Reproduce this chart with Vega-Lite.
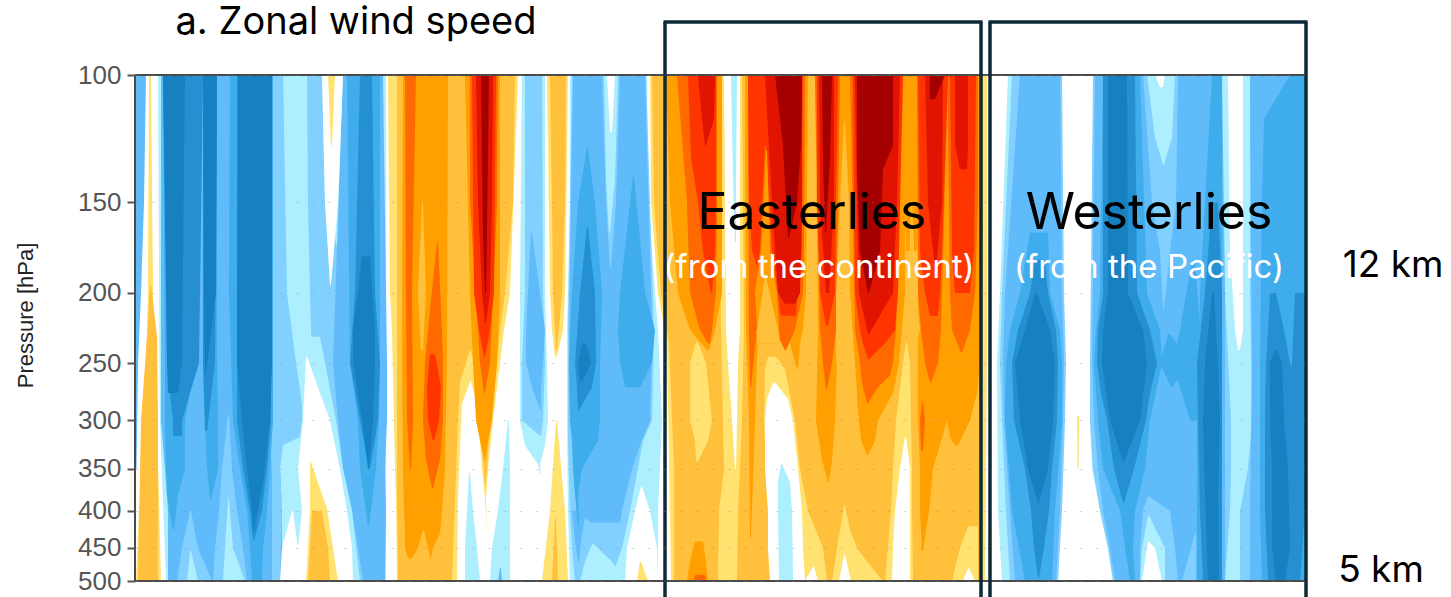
{"$schema":"https://vega.github.io/schema/vega-lite/v6.json","width":1170,"height":506,"autosize":{"type":"none"},"padding":{"left":135,"top":75,"right":146,"bottom":16},"background":"white","config":{"view":{"stroke":null},"font":"Liberation Sans"},
"layer":[
{"mark":{"type":"area","orient":"horizontal","strokeWidth":0},
"data":{"values":[
{"r":1,"v":-3,"p":100,"x":136,"x2":146},{"r":1,"v":-3,"p":150,"x":136,"x2":144},{"r":1,"v":-3,"p":200,"x":136,"x2":141},{"r":1,"v":-3,"p":250,"x":136,"x2":138},{"r":1,"v":-3,"p":350,"x":136,"x2":136.5},
{"r":2,"v":1,"p":100,"x":149,"x2":151},{"r":2,"v":1,"p":200,"x":148,"x2":153},{"r":2,"v":1,"p":250,"x":146,"x2":155},{"r":2,"v":1,"p":300,"x":143,"x2":157},{"r":2,"v":1,"p":500,"x":136,"x2":161},
{"r":3,"v":2,"p":195,"x":150,"x2":151},{"r":3,"v":2,"p":230,"x":147,"x2":157},{"r":3,"v":2,"p":300,"x":141,"x2":158},{"r":3,"v":2,"p":500,"x":138,"x2":158},
{"r":4,"v":-1,"p":100,"x":158,"x2":386},{"r":4,"v":-1,"p":300,"x":160,"x2":386},{"r":4,"v":-1,"p":500,"x":166,"x2":386},
{"r":5,"v":-3,"p":100,"x":161,"x2":273},{"r":5,"v":-3,"p":300,"x":161,"x2":273},{"r":5,"v":-3,"p":350,"x":165,"x2":280},{"r":5,"v":-3,"p":400,"x":168,"x2":282},{"r":5,"v":-3,"p":500,"x":168,"x2":282},
{"r":6,"v":-2,"p":100,"x":270,"x2":283},{"r":6,"v":-2,"p":200,"x":270,"x2":287},{"r":6,"v":-2,"p":250,"x":270,"x2":296},{"r":6,"v":-2,"p":285,"x":270,"x2":302},{"r":6,"v":-2,"p":315,"x":270,"x2":302},{"r":6,"v":-2,"p":325,"x":270,"x2":283},{"r":6,"v":-2,"p":350,"x":272,"x2":280},{"r":6,"v":-2,"p":400,"x":272,"x2":282},{"r":6,"v":-2,"p":500,"x":272,"x2":280},
{"r":7,"v":-2,"p":100,"x":307,"x2":322},{"r":7,"v":-2,"p":150,"x":308,"x2":325},{"r":7,"v":-2,"p":200,"x":310,"x2":350},{"r":7,"v":-2,"p":250,"x":312,"x2":345},{"r":7,"v":-2,"p":300,"x":333,"x2":340},{"r":7,"v":-2,"p":350,"x":343,"x2":350},{"r":7,"v":-2,"p":400,"x":350,"x2":357},{"r":7,"v":-2,"p":500,"x":358,"x2":363},
{"r":8,"v":-3,"p":100,"x":343,"x2":383},{"r":8,"v":-3,"p":250,"x":333,"x2":387},{"r":8,"v":-3,"p":300,"x":338,"x2":387},{"r":8,"v":-3,"p":350,"x":343,"x2":385},{"r":8,"v":-3,"p":400,"x":352,"x2":386},{"r":8,"v":-3,"p":500,"x":363,"x2":385},
{"r":9,"v":-1,"p":230,"x":305,"x2":320},{"r":9,"v":-1,"p":300,"x":302,"x2":336},{"r":9,"v":-1,"p":350,"x":295,"x2":343},{"r":9,"v":-1,"p":400,"x":282,"x2":352},{"r":9,"v":-1,"p":500,"x":282,"x2":360},
{"r":10,"v":0,"p":100,"x":322,"x2":343},{"r":10,"v":0,"p":150,"x":325,"x2":338},{"r":10,"v":0,"p":195,"x":330,"x2":331},
{"r":11,"v":1,"p":100,"x":328,"x2":335},{"r":11,"v":1,"p":125,"x":331,"x2":332},
{"r":12,"v":0,"p":245,"x":306,"x2":307},{"r":12,"v":0,"p":300,"x":303,"x2":330},{"r":12,"v":0,"p":350,"x":298,"x2":340},{"r":12,"v":0,"p":400,"x":302,"x2":347},{"r":12,"v":0,"p":450,"x":298,"x2":352},{"r":12,"v":0,"p":500,"x":298,"x2":353},
{"r":13,"v":0,"p":400,"x":292,"x2":293},{"r":13,"v":0,"p":450,"x":282,"x2":298},{"r":13,"v":0,"p":500,"x":280,"x2":307},
{"r":14,"v":1,"p":343,"x":310,"x2":311},{"r":14,"v":1,"p":397,"x":310,"x2":327},{"r":14,"v":1,"p":450,"x":308,"x2":333},{"r":14,"v":1,"p":500,"x":306,"x2":338},
{"r":15,"v":2,"p":400,"x":312,"x2":322},{"r":15,"v":2,"p":450,"x":310,"x2":328},{"r":15,"v":2,"p":500,"x":308,"x2":330},
{"r":16,"v":-4,"p":100,"x":163,"x2":203},{"r":16,"v":-4,"p":250,"x":165,"x2":195},{"r":16,"v":-4,"p":300,"x":165,"x2":185},{"r":16,"v":-4,"p":350,"x":166,"x2":185},{"r":16,"v":-4,"p":380,"x":167,"x2":178},{"r":16,"v":-4,"p":425,"x":173,"x2":174},
{"r":17,"v":-4,"p":100,"x":203,"x2":217},{"r":17,"v":-4,"p":250,"x":203,"x2":217},{"r":17,"v":-4,"p":300,"x":205,"x2":218},{"r":17,"v":-4,"p":350,"x":207,"x2":218},{"r":17,"v":-4,"p":385,"x":210,"x2":211},
{"r":18,"v":-4,"p":100,"x":230,"x2":237},{"r":18,"v":-4,"p":200,"x":229,"x2":237},{"r":18,"v":-4,"p":300,"x":233,"x2":237},
{"r":19,"v":-4,"p":100,"x":235,"x2":273},{"r":19,"v":-4,"p":300,"x":233,"x2":273},{"r":19,"v":-4,"p":350,"x":240,"x2":270},{"r":19,"v":-4,"p":400,"x":247,"x2":267},{"r":19,"v":-4,"p":450,"x":250,"x2":263},{"r":19,"v":-4,"p":500,"x":252,"x2":262},
{"r":20,"v":-5,"p":100,"x":163,"x2":203},{"r":20,"v":-5,"p":250,"x":168,"x2":199},{"r":20,"v":-5,"p":275,"x":170,"x2":190},{"r":20,"v":-5,"p":300,"x":173,"x2":182},{"r":20,"v":-5,"p":315,"x":173,"x2":182},
{"r":21,"v":-5,"p":100,"x":203,"x2":217},{"r":21,"v":-5,"p":250,"x":203,"x2":215},{"r":21,"v":-5,"p":310,"x":205,"x2":207},
{"r":22,"v":-5,"p":100,"x":237,"x2":272},{"r":22,"v":-5,"p":300,"x":237,"x2":271},{"r":22,"v":-5,"p":350,"x":243,"x2":267},{"r":22,"v":-5,"p":400,"x":250,"x2":262},{"r":22,"v":-5,"p":440,"x":253,"x2":254},
{"r":23,"v":-6,"p":100,"x":163,"x2":185},{"r":23,"v":-6,"p":250,"x":167,"x2":182},{"r":23,"v":-6,"p":275,"x":168,"x2":178},
{"r":24,"v":-6,"p":100,"x":203,"x2":217},{"r":24,"v":-6,"p":200,"x":204,"x2":216},{"r":24,"v":-6,"p":260,"x":205,"x2":206},
{"r":25,"v":-6,"p":100,"x":238,"x2":272},{"r":25,"v":-6,"p":250,"x":237,"x2":272},{"r":25,"v":-6,"p":300,"x":242,"x2":270},{"r":25,"v":-6,"p":350,"x":247,"x2":265},{"r":25,"v":-6,"p":400,"x":252,"x2":258},{"r":25,"v":-6,"p":425,"x":253,"x2":254},
{"r":26,"v":-2,"p":400,"x":190,"x2":191},{"r":26,"v":-2,"p":450,"x":182,"x2":198},{"r":26,"v":-2,"p":500,"x":177,"x2":212},
{"r":27,"v":-1,"p":455,"x":190,"x2":191},{"r":27,"v":-1,"p":500,"x":187,"x2":198},
{"r":28,"v":-2,"p":295,"x":228,"x2":229},{"r":28,"v":-2,"p":350,"x":222,"x2":232},{"r":28,"v":-2,"p":400,"x":219,"x2":237},{"r":28,"v":-2,"p":450,"x":215,"x2":243},{"r":28,"v":-2,"p":500,"x":213,"x2":247},
{"r":29,"v":-1,"p":385,"x":228,"x2":229},{"r":29,"v":-1,"p":450,"x":225,"x2":233},{"r":29,"v":-1,"p":500,"x":223,"x2":245},
{"r":30,"v":-4,"p":100,"x":347,"x2":380},{"r":30,"v":-4,"p":250,"x":350,"x2":380},{"r":30,"v":-4,"p":300,"x":358,"x2":379},{"r":30,"v":-4,"p":350,"x":360,"x2":376},{"r":30,"v":-4,"p":420,"x":368,"x2":369},
{"r":31,"v":-5,"p":100,"x":360,"x2":372},{"r":31,"v":-5,"p":200,"x":355,"x2":375},{"r":31,"v":-5,"p":250,"x":350,"x2":380},{"r":31,"v":-5,"p":300,"x":360,"x2":378},{"r":31,"v":-5,"p":350,"x":369,"x2":370},
{"r":32,"v":-6,"p":178,"x":362,"x2":370},{"r":32,"v":-6,"p":225,"x":353,"x2":375},{"r":32,"v":-6,"p":250,"x":353,"x2":375},{"r":32,"v":-6,"p":300,"x":362,"x2":373},{"r":32,"v":-6,"p":350,"x":368,"x2":369},
{"r":33,"v":1,"p":100,"x":388,"x2":518},{"r":33,"v":1,"p":200,"x":390,"x2":510},{"r":33,"v":1,"p":225,"x":392,"x2":504},{"r":33,"v":1,"p":300,"x":394,"x2":493},{"r":33,"v":1,"p":350,"x":395,"x2":488},{"r":33,"v":1,"p":385,"x":396,"x2":486},{"r":33,"v":1,"p":500,"x":397,"x2":458},
{"r":34,"v":2,"p":100,"x":397,"x2":515},{"r":34,"v":2,"p":150,"x":397,"x2":513},{"r":34,"v":2,"p":200,"x":397,"x2":505},{"r":34,"v":2,"p":225,"x":397,"x2":500},{"r":34,"v":2,"p":250,"x":397,"x2":497},{"r":34,"v":2,"p":300,"x":397,"x2":490},{"r":34,"v":2,"p":350,"x":397,"x2":487},{"r":34,"v":2,"p":375,"x":397,"x2":485},{"r":34,"v":2,"p":500,"x":398,"x2":452},
{"r":35,"v":1,"p":240,"x":470,"x2":471},{"r":35,"v":1,"p":265,"x":460,"x2":478},{"r":35,"v":1,"p":300,"x":458,"x2":480},{"r":35,"v":1,"p":385,"x":455,"x2":486},{"r":35,"v":1,"p":500,"x":452,"x2":488},
{"r":36,"v":0,"p":265,"x":470,"x2":471},{"r":36,"v":0,"p":285,"x":462,"x2":477},{"r":36,"v":0,"p":350,"x":459,"x2":482},{"r":36,"v":0,"p":385,"x":458,"x2":485},{"r":36,"v":0,"p":500,"x":457,"x2":490},
{"r":37,"v":-1,"p":355,"x":469,"x2":470},{"r":37,"v":-1,"p":400,"x":467,"x2":473},{"r":37,"v":-1,"p":450,"x":465,"x2":477},{"r":37,"v":-1,"p":500,"x":465,"x2":480},
{"r":38,"v":-1,"p":300,"x":508,"x2":509},{"r":38,"v":-1,"p":350,"x":503,"x2":510},{"r":38,"v":-1,"p":400,"x":498,"x2":510},{"r":38,"v":-1,"p":450,"x":492,"x2":510},{"r":38,"v":-1,"p":500,"x":490,"x2":510},
{"r":39,"v":-3,"p":480,"x":500,"x2":501},{"r":39,"v":-3,"p":500,"x":498,"x2":502},
{"r":40,"v":3,"p":100,"x":403,"x2":448},{"r":40,"v":3,"p":250,"x":402,"x2":447},{"r":40,"v":3,"p":350,"x":403,"x2":445},{"r":40,"v":3,"p":400,"x":404,"x2":442},{"r":40,"v":3,"p":430,"x":405,"x2":440},{"r":40,"v":3,"p":450,"x":405,"x2":433},{"r":40,"v":3,"p":465,"x":408,"x2":431},
{"r":41,"v":2,"p":425,"x":423,"x2":424},{"r":41,"v":2,"p":450,"x":418,"x2":428},{"r":41,"v":2,"p":470,"x":410,"x2":431},
{"r":42,"v":2,"p":150,"x":422,"x2":423},{"r":42,"v":2,"p":200,"x":418,"x2":426},{"r":42,"v":2,"p":240,"x":421,"x2":423},
{"r":43,"v":4,"p":100,"x":405,"x2":416},{"r":43,"v":4,"p":200,"x":406,"x2":412},{"r":43,"v":4,"p":300,"x":407,"x2":413},{"r":43,"v":4,"p":350,"x":410,"x2":411},
{"r":44,"v":4,"p":170,"x":437,"x2":438},{"r":44,"v":4,"p":225,"x":428,"x2":442},{"r":44,"v":4,"p":250,"x":425,"x2":443},{"r":44,"v":4,"p":300,"x":423,"x2":443},{"r":44,"v":4,"p":340,"x":426,"x2":440},{"r":44,"v":4,"p":372,"x":432,"x2":433},
{"r":45,"v":5,"p":243,"x":430,"x2":435},{"r":45,"v":5,"p":270,"x":427,"x2":441},{"r":45,"v":5,"p":300,"x":428,"x2":439},{"r":45,"v":5,"p":320,"x":433,"x2":434},
{"r":46,"v":3,"p":100,"x":465,"x2":500},{"r":46,"v":3,"p":200,"x":470,"x2":500},{"r":46,"v":3,"p":250,"x":473,"x2":497},{"r":46,"v":3,"p":300,"x":476,"x2":492},{"r":46,"v":3,"p":340,"x":484,"x2":485},
{"r":47,"v":4,"p":100,"x":470,"x2":498},{"r":47,"v":4,"p":150,"x":470,"x2":497},{"r":47,"v":4,"p":250,"x":480,"x2":490},{"r":47,"v":4,"p":275,"x":484,"x2":485},
{"r":48,"v":5,"p":100,"x":472,"x2":496},{"r":48,"v":5,"p":200,"x":474,"x2":494},{"r":48,"v":5,"p":225,"x":479,"x2":490},{"r":48,"v":5,"p":245,"x":484,"x2":485},
{"r":49,"v":6,"p":100,"x":476,"x2":493},{"r":49,"v":6,"p":150,"x":478,"x2":492},{"r":49,"v":6,"p":200,"x":482,"x2":490},{"r":49,"v":6,"p":220,"x":485,"x2":486},
{"r":50,"v":7,"p":100,"x":481,"x2":489},{"r":50,"v":7,"p":165,"x":483,"x2":487},{"r":50,"v":7,"p":200,"x":485,"x2":486},
{"r":51,"v":-1,"p":100,"x":522,"x2":545},{"r":51,"v":-1,"p":200,"x":520,"x2":545},{"r":51,"v":-1,"p":250,"x":520,"x2":547},{"r":51,"v":-1,"p":300,"x":520,"x2":548},{"r":51,"v":-1,"p":325,"x":525,"x2":545},{"r":51,"v":-1,"p":345,"x":538,"x2":540},{"r":51,"v":-1,"p":355,"x":540,"x2":541},
{"r":52,"v":-2,"p":100,"x":525,"x2":542},{"r":52,"v":-2,"p":200,"x":525,"x2":543},{"r":52,"v":-2,"p":250,"x":522,"x2":545},{"r":52,"v":-2,"p":300,"x":522,"x2":543},{"r":52,"v":-2,"p":315,"x":540,"x2":541},
{"r":53,"v":-3,"p":165,"x":531,"x2":532},{"r":53,"v":-3,"p":225,"x":526,"x2":545},{"r":53,"v":-3,"p":250,"x":526,"x2":543},{"r":53,"v":-3,"p":270,"x":532,"x2":541},{"r":53,"v":-3,"p":290,"x":540,"x2":541},
{"r":54,"v":1,"p":100,"x":547,"x2":568},{"r":54,"v":1,"p":200,"x":550,"x2":565},{"r":54,"v":1,"p":225,"x":552,"x2":563},{"r":54,"v":1,"p":245,"x":555,"x2":557},
{"r":55,"v":2,"p":100,"x":550,"x2":566},{"r":55,"v":2,"p":150,"x":552,"x2":565},{"r":55,"v":2,"p":200,"x":553,"x2":562},{"r":55,"v":2,"p":240,"x":556,"x2":557},
{"r":56,"v":1,"p":300,"x":556,"x2":557},{"r":56,"v":1,"p":400,"x":550,"x2":565},{"r":56,"v":1,"p":500,"x":542,"x2":568},
{"r":57,"v":2,"p":410,"x":555,"x2":556},{"r":57,"v":2,"p":500,"x":552,"x2":558},
{"r":58,"v":-1,"p":100,"x":570,"x2":647},{"r":58,"v":-1,"p":150,"x":570,"x2":648},{"r":58,"v":-1,"p":225,"x":567,"x2":658},{"r":58,"v":-1,"p":300,"x":567,"x2":662},{"r":58,"v":-1,"p":400,"x":568,"x2":658},{"r":58,"v":-1,"p":500,"x":570,"x2":658},
{"r":59,"v":0,"p":370,"x":641,"x2":642},{"r":59,"v":0,"p":400,"x":635,"x2":650},{"r":59,"v":0,"p":450,"x":627,"x2":657},{"r":59,"v":0,"p":500,"x":625,"x2":658},
{"r":60,"v":1,"p":470,"x":640,"x2":641},{"r":60,"v":1,"p":500,"x":637,"x2":648},
{"r":61,"v":-2,"p":100,"x":572,"x2":646},{"r":61,"v":-2,"p":225,"x":568,"x2":654},{"r":61,"v":-2,"p":300,"x":568,"x2":652},{"r":61,"v":-2,"p":320,"x":568,"x2":643},{"r":61,"v":-2,"p":400,"x":570,"x2":630},{"r":61,"v":-2,"p":450,"x":572,"x2":622},{"r":61,"v":-2,"p":500,"x":575,"x2":610},
{"r":62,"v":-1,"p":445,"x":592,"x2":594},{"r":62,"v":-1,"p":470,"x":585,"x2":612},{"r":62,"v":-1,"p":500,"x":580,"x2":625},
{"r":63,"v":-3,"p":100,"x":573,"x2":645},{"r":63,"v":-3,"p":225,"x":569,"x2":652},{"r":63,"v":-3,"p":300,"x":570,"x2":650},{"r":63,"v":-3,"p":325,"x":574,"x2":640},{"r":63,"v":-3,"p":350,"x":575,"x2":632},{"r":63,"v":-3,"p":400,"x":578,"x2":622},{"r":63,"v":-3,"p":415,"x":590,"x2":620},
{"r":64,"v":-3,"p":400,"x":572,"x2":586},{"r":64,"v":-3,"p":440,"x":575,"x2":581},{"r":64,"v":-3,"p":470,"x":578,"x2":579},
{"r":65,"v":-4,"p":126,"x":587,"x2":588},{"r":65,"v":-4,"p":150,"x":578,"x2":595},{"r":65,"v":-4,"p":200,"x":572,"x2":602},{"r":65,"v":-4,"p":250,"x":569,"x2":600},{"r":65,"v":-4,"p":300,"x":570,"x2":600},{"r":65,"v":-4,"p":320,"x":572,"x2":598},{"r":65,"v":-4,"p":350,"x":573,"x2":582},{"r":65,"v":-4,"p":380,"x":575,"x2":578},{"r":65,"v":-4,"p":420,"x":578,"x2":579},
{"r":66,"v":-4,"p":138,"x":633,"x2":634},{"r":66,"v":-4,"p":200,"x":620,"x2":645},{"r":66,"v":-4,"p":225,"x":618,"x2":655},{"r":66,"v":-4,"p":250,"x":620,"x2":652},{"r":66,"v":-4,"p":270,"x":625,"x2":640},
{"r":67,"v":-5,"p":162,"x":587,"x2":588},{"r":67,"v":-5,"p":200,"x":580,"x2":595},{"r":67,"v":-5,"p":250,"x":575,"x2":596},{"r":67,"v":-5,"p":270,"x":577,"x2":592},{"r":67,"v":-5,"p":290,"x":578,"x2":579},
{"r":68,"v":-6,"p":235,"x":582,"x2":586},{"r":68,"v":-6,"p":250,"x":578,"x2":591},{"r":68,"v":-6,"p":265,"x":580,"x2":582},
{"r":69,"v":-2,"p":100,"x":602,"x2":620},{"r":69,"v":-2,"p":150,"x":606,"x2":616},{"r":69,"v":-2,"p":185,"x":610,"x2":611},
{"r":70,"v":-1,"p":100,"x":604,"x2":618},{"r":70,"v":-1,"p":140,"x":606,"x2":615},{"r":70,"v":-1,"p":165,"x":609,"x2":610},
{"r":71,"v":0,"p":100,"x":607,"x2":615},{"r":71,"v":0,"p":120,"x":610,"x2":612},
{"r":72,"v":1,"p":100,"x":650,"x2":987},{"r":72,"v":1,"p":150,"x":651,"x2":987},{"r":72,"v":1,"p":200,"x":658,"x2":987},{"r":72,"v":1,"p":235,"x":667,"x2":987},{"r":72,"v":1,"p":500,"x":671,"x2":985},
{"r":73,"v":2,"p":100,"x":652,"x2":983},{"r":73,"v":2,"p":150,"x":654,"x2":983},{"r":73,"v":2,"p":200,"x":661,"x2":982},{"r":73,"v":2,"p":235,"x":669,"x2":981},{"r":73,"v":2,"p":350,"x":674,"x2":980},{"r":73,"v":2,"p":500,"x":674,"x2":979},
{"r":74,"v":1,"p":100,"x":718,"x2":742},{"r":74,"v":1,"p":225,"x":721,"x2":744},{"r":74,"v":1,"p":300,"x":723,"x2":742},{"r":74,"v":1,"p":350,"x":724,"x2":740},{"r":74,"v":1,"p":400,"x":719,"x2":738},{"r":74,"v":1,"p":500,"x":718,"x2":737},
{"r":75,"v":0,"p":100,"x":724,"x2":740},{"r":75,"v":0,"p":225,"x":726,"x2":740},{"r":75,"v":0,"p":250,"x":728,"x2":738},{"r":75,"v":0,"p":300,"x":732,"x2":737},{"r":75,"v":0,"p":350,"x":735,"x2":736},
{"r":76,"v":-1,"p":100,"x":731,"x2":737},{"r":76,"v":-1,"p":140,"x":733,"x2":736},{"r":76,"v":-1,"p":170,"x":735,"x2":736},
{"r":77,"v":3,"p":100,"x":666,"x2":722},{"r":77,"v":3,"p":150,"x":670,"x2":722},{"r":77,"v":3,"p":200,"x":678,"x2":722},{"r":77,"v":3,"p":225,"x":690,"x2":715},{"r":77,"v":3,"p":240,"x":707,"x2":709},
{"r":78,"v":4,"p":100,"x":677,"x2":717},{"r":78,"v":4,"p":150,"x":687,"x2":717},{"r":78,"v":4,"p":200,"x":690,"x2":716},{"r":78,"v":4,"p":225,"x":700,"x2":712},{"r":78,"v":4,"p":235,"x":708,"x2":710},
{"r":79,"v":5,"p":100,"x":688,"x2":716},{"r":79,"v":5,"p":130,"x":691,"x2":716},{"r":79,"v":5,"p":150,"x":698,"x2":716},{"r":79,"v":5,"p":175,"x":703,"x2":715},{"r":79,"v":5,"p":200,"x":711,"x2":712},
{"r":80,"v":6,"p":100,"x":698,"x2":715},{"r":80,"v":6,"p":115,"x":702,"x2":714},{"r":80,"v":6,"p":125,"x":705,"x2":706},
{"r":81,"v":1,"p":234,"x":696,"x2":698},{"r":81,"v":1,"p":250,"x":690,"x2":706},{"r":81,"v":1,"p":300,"x":690,"x2":712},{"r":81,"v":1,"p":320,"x":695,"x2":708},{"r":81,"v":1,"p":342,"x":696,"x2":698},
{"r":82,"v":3,"p":441,"x":695,"x2":703},{"r":82,"v":3,"p":470,"x":690,"x2":706},{"r":82,"v":3,"p":500,"x":687,"x2":708},
{"r":83,"v":4,"p":490,"x":695,"x2":705},{"r":83,"v":4,"p":500,"x":693,"x2":706},
{"r":84,"v":3,"p":100,"x":748,"x2":808},{"r":84,"v":3,"p":150,"x":752,"x2":807},{"r":84,"v":3,"p":200,"x":765,"x2":806},{"r":84,"v":3,"p":225,"x":780,"x2":803},{"r":84,"v":3,"p":235,"x":790,"x2":800},{"r":84,"v":3,"p":255,"x":797,"x2":798},
{"r":85,"v":3,"p":100,"x":745,"x2":760},{"r":85,"v":3,"p":225,"x":746,"x2":758},{"r":85,"v":3,"p":300,"x":749,"x2":755},{"r":85,"v":3,"p":436,"x":750,"x2":751},
{"r":86,"v":4,"p":100,"x":748,"x2":805},{"r":86,"v":4,"p":175,"x":755,"x2":804},{"r":86,"v":4,"p":200,"x":758,"x2":803},{"r":86,"v":4,"p":225,"x":775,"x2":795},{"r":86,"v":4,"p":240,"x":785,"x2":786},
{"r":87,"v":4,"p":100,"x":748,"x2":760},{"r":87,"v":4,"p":230,"x":749,"x2":756},{"r":87,"v":4,"p":270,"x":750,"x2":751},
{"r":88,"v":5,"p":100,"x":748,"x2":803},{"r":88,"v":5,"p":150,"x":749,"x2":802},{"r":88,"v":5,"p":175,"x":752,"x2":802},{"r":88,"v":5,"p":190,"x":760,"x2":800},{"r":88,"v":5,"p":205,"x":770,"x2":797},{"r":88,"v":5,"p":215,"x":782,"x2":796},
{"r":89,"v":6,"p":100,"x":765,"x2":802},{"r":89,"v":6,"p":150,"x":772,"x2":802},{"r":89,"v":6,"p":200,"x":778,"x2":800},{"r":89,"v":6,"p":207,"x":785,"x2":795},
{"r":90,"v":7,"p":100,"x":775,"x2":802},{"r":90,"v":7,"p":125,"x":783,"x2":801},{"r":90,"v":7,"p":150,"x":786,"x2":797},{"r":90,"v":7,"p":168,"x":788,"x2":789},
{"r":91,"v":4,"p":125,"x":765,"x2":766},{"r":91,"v":4,"p":175,"x":760,"x2":772},{"r":91,"v":4,"p":200,"x":752,"x2":778},{"r":91,"v":4,"p":225,"x":750,"x2":782},
{"r":92,"v":3,"p":127,"x":766,"x2":767},{"r":92,"v":3,"p":175,"x":761,"x2":770},{"r":92,"v":3,"p":200,"x":755,"x2":777},{"r":92,"v":3,"p":235,"x":758,"x2":780},
{"r":93,"v":2,"p":190,"x":765,"x2":766},{"r":93,"v":2,"p":225,"x":757,"x2":778},{"r":93,"v":2,"p":235,"x":757,"x2":780},
{"r":94,"v":3,"p":100,"x":815,"x2":842},{"r":94,"v":3,"p":225,"x":818,"x2":838},{"r":94,"v":3,"p":300,"x":816,"x2":835},{"r":94,"v":3,"p":340,"x":822,"x2":832},{"r":94,"v":3,"p":365,"x":828,"x2":829},
{"r":95,"v":4,"p":100,"x":815,"x2":840},{"r":95,"v":4,"p":225,"x":820,"x2":836},{"r":95,"v":4,"p":250,"x":823,"x2":832},{"r":95,"v":4,"p":272,"x":826,"x2":827},
{"r":96,"v":5,"p":100,"x":817,"x2":838},{"r":96,"v":5,"p":150,"x":817,"x2":836},{"r":96,"v":5,"p":200,"x":820,"x2":835},{"r":96,"v":5,"p":222,"x":826,"x2":828},
{"r":97,"v":6,"p":100,"x":819,"x2":834},{"r":97,"v":6,"p":150,"x":820,"x2":834},{"r":97,"v":6,"p":200,"x":826,"x2":829},
{"r":98,"v":7,"p":100,"x":822,"x2":832},{"r":98,"v":7,"p":130,"x":823,"x2":830},{"r":98,"v":7,"p":165,"x":825,"x2":826},
{"r":99,"v":3,"p":100,"x":850,"x2":905},{"r":99,"v":3,"p":200,"x":850,"x2":905},{"r":99,"v":3,"p":250,"x":855,"x2":899},{"r":99,"v":3,"p":275,"x":857,"x2":893},{"r":99,"v":3,"p":283,"x":857,"x2":888},{"r":99,"v":3,"p":300,"x":859,"x2":878},{"r":99,"v":3,"p":320,"x":861,"x2":875},{"r":99,"v":3,"p":335,"x":867,"x2":868},
{"r":100,"v":4,"p":100,"x":850,"x2":903},{"r":100,"v":4,"p":225,"x":855,"x2":896},{"r":100,"v":4,"p":250,"x":860,"x2":893},{"r":100,"v":4,"p":260,"x":861,"x2":890},{"r":100,"v":4,"p":270,"x":863,"x2":878},{"r":100,"v":4,"p":284,"x":867,"x2":868},
{"r":101,"v":5,"p":100,"x":853,"x2":903},{"r":101,"v":5,"p":200,"x":855,"x2":898},{"r":101,"v":5,"p":225,"x":860,"x2":895},{"r":101,"v":5,"p":235,"x":863,"x2":885},{"r":101,"v":5,"p":247,"x":868,"x2":869},
{"r":102,"v":6,"p":100,"x":855,"x2":900},{"r":102,"v":6,"p":150,"x":857,"x2":897},{"r":102,"v":6,"p":200,"x":859,"x2":893},{"r":102,"v":6,"p":228,"x":868,"x2":869},
{"r":103,"v":7,"p":100,"x":857,"x2":893},{"r":103,"v":7,"p":125,"x":857,"x2":893},{"r":103,"v":7,"p":135,"x":857,"x2":883},{"r":103,"v":7,"p":175,"x":860,"x2":880},{"r":103,"v":7,"p":200,"x":868,"x2":869},
{"r":104,"v":3,"p":100,"x":840,"x2":850},{"r":104,"v":3,"p":200,"x":840,"x2":850},
{"r":105,"v":2,"p":116,"x":844,"x2":845},{"r":105,"v":2,"p":150,"x":840,"x2":849},{"r":105,"v":2,"p":200,"x":836,"x2":850},{"r":105,"v":2,"p":250,"x":836,"x2":852},
{"r":106,"v":3,"p":100,"x":918,"x2":980},{"r":106,"v":3,"p":250,"x":918,"x2":980},{"r":106,"v":3,"p":275,"x":918,"x2":977},{"r":106,"v":3,"p":300,"x":918,"x2":947},
{"r":107,"v":3,"p":275,"x":947,"x2":977},{"r":107,"v":3,"p":300,"x":947,"x2":970},{"r":107,"v":3,"p":316,"x":950,"x2":962},{"r":107,"v":3,"p":325,"x":955,"x2":958},
{"r":108,"v":3,"p":300,"x":918,"x2":947},{"r":108,"v":3,"p":350,"x":920,"x2":933},{"r":108,"v":3,"p":400,"x":920,"x2":929},{"r":108,"v":3,"p":455,"x":922,"x2":923},
{"r":109,"v":3,"p":100,"x":903,"x2":920},{"r":109,"v":3,"p":150,"x":905,"x2":918},{"r":109,"v":3,"p":175,"x":906,"x2":917},
{"r":110,"v":2,"p":150,"x":911,"x2":912},{"r":110,"v":2,"p":200,"x":908,"x2":916},{"r":110,"v":2,"p":225,"x":903,"x2":920},{"r":110,"v":2,"p":235,"x":903,"x2":917},
{"r":111,"v":4,"p":100,"x":917,"x2":948},{"r":111,"v":4,"p":200,"x":918,"x2":942},{"r":111,"v":4,"p":225,"x":921,"x2":941},{"r":111,"v":4,"p":250,"x":925,"x2":938},{"r":111,"v":4,"p":266,"x":930,"x2":931},
{"r":112,"v":4,"p":100,"x":947,"x2":978},{"r":112,"v":4,"p":150,"x":949,"x2":978},{"r":112,"v":4,"p":200,"x":950,"x2":975},{"r":112,"v":4,"p":225,"x":952,"x2":970},{"r":112,"v":4,"p":242,"x":961,"x2":962},
{"r":113,"v":4,"p":283,"x":922,"x2":923},{"r":113,"v":4,"p":300,"x":920,"x2":925},{"r":113,"v":4,"p":330,"x":921,"x2":923},
{"r":114,"v":5,"p":100,"x":918,"x2":948},{"r":114,"v":5,"p":175,"x":920,"x2":942},{"r":114,"v":5,"p":200,"x":925,"x2":940},{"r":114,"v":5,"p":215,"x":930,"x2":938},
{"r":115,"v":5,"p":100,"x":950,"x2":976},{"r":115,"v":5,"p":175,"x":952,"x2":974},{"r":115,"v":5,"p":200,"x":955,"x2":970},
{"r":116,"v":6,"p":100,"x":925,"x2":943},{"r":116,"v":6,"p":150,"x":928,"x2":942},{"r":116,"v":6,"p":185,"x":935,"x2":936},
{"r":117,"v":6,"p":100,"x":955,"x2":968},{"r":117,"v":6,"p":125,"x":955,"x2":968},{"r":117,"v":6,"p":135,"x":960,"x2":967},
{"r":118,"v":7,"p":100,"x":930,"x2":945},{"r":118,"v":7,"p":108,"x":930,"x2":935},
{"r":119,"v":1,"p":234,"x":906,"x2":907},{"r":119,"v":1,"p":250,"x":903,"x2":910},{"r":119,"v":1,"p":300,"x":896,"x2":911},{"r":119,"v":1,"p":350,"x":893,"x2":912},{"r":119,"v":1,"p":400,"x":891,"x2":912},{"r":119,"v":1,"p":500,"x":885,"x2":913},
{"r":120,"v":0,"p":316,"x":905,"x2":906},{"r":120,"v":0,"p":350,"x":900,"x2":910},{"r":120,"v":0,"p":400,"x":895,"x2":910},{"r":120,"v":0,"p":450,"x":893,"x2":910},{"r":120,"v":0,"p":500,"x":892,"x2":910},
{"r":121,"v":1,"p":245,"x":768,"x2":776},{"r":121,"v":1,"p":255,"x":765,"x2":785},{"r":121,"v":1,"p":300,"x":764,"x2":795},{"r":121,"v":1,"p":350,"x":766,"x2":800},{"r":121,"v":1,"p":400,"x":768,"x2":808},{"r":121,"v":1,"p":450,"x":768,"x2":823},{"r":121,"v":1,"p":500,"x":770,"x2":827},
{"r":122,"v":0,"p":266,"x":773,"x2":775},{"r":122,"v":0,"p":280,"x":767,"x2":788},{"r":122,"v":0,"p":300,"x":765,"x2":793},{"r":122,"v":0,"p":350,"x":765,"x2":798},{"r":122,"v":0,"p":400,"x":768,"x2":802},{"r":122,"v":0,"p":450,"x":768,"x2":803},{"r":122,"v":0,"p":500,"x":770,"x2":805},
{"r":123,"v":-1,"p":345,"x":781,"x2":782},{"r":123,"v":-1,"p":365,"x":778,"x2":790},{"r":123,"v":-1,"p":400,"x":778,"x2":792},{"r":123,"v":-1,"p":500,"x":779,"x2":793},
{"r":124,"v":0,"p":478,"x":813,"x2":814},{"r":124,"v":0,"p":500,"x":805,"x2":818},
{"r":125,"v":1,"p":393,"x":844,"x2":845},{"r":125,"v":1,"p":425,"x":840,"x2":850},{"r":125,"v":1,"p":450,"x":837,"x2":857},{"r":125,"v":1,"p":470,"x":835,"x2":867},{"r":125,"v":1,"p":500,"x":832,"x2":883},
{"r":126,"v":0,"p":460,"x":844,"x2":845},{"r":126,"v":0,"p":500,"x":839,"x2":851},
{"r":127,"v":1,"p":420,"x":968,"x2":978},{"r":127,"v":1,"p":450,"x":960,"x2":978},{"r":127,"v":1,"p":500,"x":952,"x2":978},
{"r":128,"v":0,"p":480,"x":968,"x2":969},{"r":128,"v":0,"p":500,"x":963,"x2":975},
{"r":129,"v":-1,"p":100,"x":1008,"x2":1305},{"r":129,"v":-1,"p":200,"x":1000,"x2":1305},{"r":129,"v":-1,"p":250,"x":997,"x2":1305},{"r":129,"v":-1,"p":400,"x":998,"x2":1305},{"r":129,"v":-1,"p":500,"x":1002,"x2":1305},
{"r":130,"v":0,"p":100,"x":1060,"x2":1095},{"r":130,"v":0,"p":250,"x":1064,"x2":1092},{"r":130,"v":0,"p":300,"x":1064,"x2":1090},{"r":130,"v":0,"p":350,"x":1063,"x2":1092},{"r":130,"v":0,"p":400,"x":1060,"x2":1100},{"r":130,"v":0,"p":450,"x":1059,"x2":1108},{"r":130,"v":0,"p":500,"x":1058,"x2":1113},
{"r":131,"v":-2,"p":100,"x":1012,"x2":1062},{"r":131,"v":-2,"p":200,"x":1002,"x2":1064},{"r":131,"v":-2,"p":250,"x":1000,"x2":1066},{"r":131,"v":-2,"p":300,"x":1002,"x2":1065},{"r":131,"v":-2,"p":400,"x":1006,"x2":1062},{"r":131,"v":-2,"p":500,"x":1010,"x2":1058},
{"r":132,"v":-3,"p":100,"x":1020,"x2":1060},{"r":132,"v":-3,"p":200,"x":1005,"x2":1062},{"r":132,"v":-3,"p":250,"x":1003,"x2":1064},{"r":132,"v":-3,"p":300,"x":1004,"x2":1063},{"r":132,"v":-3,"p":400,"x":1010,"x2":1060},{"r":132,"v":-3,"p":500,"x":1015,"x2":1056},
{"r":133,"v":-4,"p":165,"x":1030,"x2":1048},{"r":133,"v":-4,"p":200,"x":1020,"x2":1050},{"r":133,"v":-4,"p":225,"x":1010,"x2":1060},{"r":133,"v":-4,"p":250,"x":1006,"x2":1062},{"r":133,"v":-4,"p":300,"x":1005,"x2":1062},{"r":133,"v":-4,"p":400,"x":1012,"x2":1055},{"r":133,"v":-4,"p":500,"x":1025,"x2":1052},
{"r":134,"v":-5,"p":180,"x":1035,"x2":1045},{"r":134,"v":-5,"p":200,"x":1030,"x2":1048},{"r":134,"v":-5,"p":225,"x":1018,"x2":1056},{"r":134,"v":-5,"p":250,"x":1012,"x2":1058},{"r":134,"v":-5,"p":300,"x":1014,"x2":1057},{"r":134,"v":-5,"p":350,"x":1025,"x2":1052},{"r":134,"v":-5,"p":400,"x":1031,"x2":1049},{"r":134,"v":-5,"p":450,"x":1034,"x2":1044},{"r":134,"v":-5,"p":495,"x":1038,"x2":1039},
{"r":135,"v":-6,"p":200,"x":1035,"x2":1037},{"r":135,"v":-6,"p":225,"x":1025,"x2":1050},{"r":135,"v":-6,"p":250,"x":1015,"x2":1055},{"r":135,"v":-6,"p":300,"x":1020,"x2":1053},{"r":135,"v":-6,"p":350,"x":1028,"x2":1048},{"r":135,"v":-6,"p":390,"x":1038,"x2":1039},
{"r":136,"v":1,"p":296,"x":1077,"x2":1079},{"r":136,"v":1,"p":350,"x":1077.5,"x2":1078.5},
{"r":137,"v":-2,"p":100,"x":1093,"x2":1305},{"r":137,"v":-2,"p":250,"x":1090,"x2":1305},{"r":137,"v":-2,"p":300,"x":1090,"x2":1305},{"r":137,"v":-2,"p":350,"x":1093,"x2":1305},{"r":137,"v":-2,"p":400,"x":1100,"x2":1305},{"r":137,"v":-2,"p":450,"x":1108,"x2":1305},{"r":137,"v":-2,"p":500,"x":1113,"x2":1305},
{"r":138,"v":-3,"p":100,"x":1095,"x2":1225},{"r":138,"v":-3,"p":250,"x":1092,"x2":1225},{"r":138,"v":-3,"p":300,"x":1094,"x2":1225},{"r":138,"v":-3,"p":350,"x":1098,"x2":1225},{"r":138,"v":-3,"p":400,"x":1103,"x2":1225},{"r":138,"v":-3,"p":450,"x":1110,"x2":1225},{"r":138,"v":-3,"p":500,"x":1115,"x2":1225},
{"r":139,"v":-2,"p":382,"x":1148,"x2":1149},{"r":139,"v":-2,"p":400,"x":1143,"x2":1170},{"r":139,"v":-2,"p":450,"x":1140,"x2":1175},{"r":139,"v":-2,"p":500,"x":1140,"x2":1178},
{"r":140,"v":-1,"p":406,"x":1148,"x2":1149},{"r":140,"v":-1,"p":450,"x":1142,"x2":1165},{"r":140,"v":-1,"p":500,"x":1140,"x2":1165},
{"r":141,"v":0,"p":441,"x":1148,"x2":1149},{"r":141,"v":0,"p":450,"x":1147,"x2":1155},{"r":141,"v":0,"p":500,"x":1142,"x2":1162},
{"r":142,"v":-2,"p":430,"x":1195,"x2":1196},{"r":142,"v":-2,"p":500,"x":1182,"x2":1196},
{"r":143,"v":-2,"p":100,"x":1143,"x2":1178},{"r":143,"v":-2,"p":150,"x":1152,"x2":1176},{"r":143,"v":-2,"p":175,"x":1160,"x2":1170},{"r":143,"v":-2,"p":210,"x":1163,"x2":1164},
{"r":144,"v":-1,"p":100,"x":1147,"x2":1175},{"r":144,"v":-1,"p":122,"x":1155,"x2":1172},{"r":144,"v":-1,"p":133,"x":1163,"x2":1164},
{"r":145,"v":0,"p":100,"x":1155,"x2":1165},{"r":145,"v":0,"p":104,"x":1160,"x2":1163},
{"r":146,"v":-4,"p":100,"x":1103,"x2":1140},{"r":146,"v":-4,"p":200,"x":1100,"x2":1147},{"r":146,"v":-4,"p":225,"x":1096,"x2":1160},{"r":146,"v":-4,"p":250,"x":1094,"x2":1162},{"r":146,"v":-4,"p":300,"x":1098,"x2":1150},{"r":146,"v":-4,"p":350,"x":1103,"x2":1145},{"r":146,"v":-4,"p":400,"x":1120,"x2":1135},{"r":146,"v":-4,"p":450,"x":1125,"x2":1133},{"r":146,"v":-4,"p":500,"x":1130,"x2":1135},
{"r":147,"v":-4,"p":180,"x":1192,"x2":1195},{"r":147,"v":-4,"p":225,"x":1180,"x2":1200},{"r":147,"v":-4,"p":250,"x":1172,"x2":1200},{"r":147,"v":-4,"p":270,"x":1180,"x2":1200},{"r":147,"v":-4,"p":300,"x":1190,"x2":1200},
{"r":147.5,"v":-4,"p":228,"x":1168,"x2":1170},{"r":147.5,"v":-4,"p":250,"x":1160,"x2":1190},{"r":147.5,"v":-4,"p":270,"x":1171,"x2":1172},
{"r":148,"v":-4,"p":100,"x":1212,"x2":1222},{"r":148,"v":-4,"p":150,"x":1205,"x2":1222},{"r":148,"v":-4,"p":200,"x":1200,"x2":1222},{"r":148,"v":-4,"p":300,"x":1197,"x2":1222},{"r":148,"v":-4,"p":500,"x":1197,"x2":1222},
{"r":149,"v":-5,"p":150,"x":1212,"x2":1218},{"r":149,"v":-5,"p":200,"x":1205,"x2":1222},{"r":149,"v":-5,"p":250,"x":1197,"x2":1222},{"r":149,"v":-5,"p":300,"x":1198,"x2":1222},{"r":149,"v":-5,"p":400,"x":1200,"x2":1222},{"r":149,"v":-5,"p":500,"x":1203,"x2":1222},
{"r":150,"v":-6,"p":200,"x":1212,"x2":1214},{"r":150,"v":-6,"p":250,"x":1205,"x2":1218},{"r":150,"v":-6,"p":300,"x":1203,"x2":1220},{"r":150,"v":-6,"p":380,"x":1205,"x2":1218},{"r":150,"v":-6,"p":500,"x":1208,"x2":1219},
{"r":151,"v":-5,"p":100,"x":1103,"x2":1135},{"r":151,"v":-5,"p":200,"x":1103,"x2":1137},{"r":151,"v":-5,"p":225,"x":1098,"x2":1150},{"r":151,"v":-5,"p":250,"x":1097,"x2":1157},{"r":151,"v":-5,"p":275,"x":1101,"x2":1150},{"r":151,"v":-5,"p":300,"x":1107,"x2":1146},{"r":151,"v":-5,"p":350,"x":1114,"x2":1134},{"r":151,"v":-5,"p":390,"x":1123,"x2":1124},
{"r":152,"v":-6,"p":100,"x":1108,"x2":1127},{"r":152,"v":-6,"p":200,"x":1108,"x2":1128},{"r":152,"v":-6,"p":225,"x":1103,"x2":1143},{"r":152,"v":-6,"p":250,"x":1102,"x2":1147},{"r":152,"v":-6,"p":300,"x":1110,"x2":1140},{"r":152,"v":-6,"p":342,"x":1123,"x2":1124},
{"r":153,"v":-1,"p":100,"x":1222,"x2":1250},{"r":153,"v":-1,"p":200,"x":1225,"x2":1250},{"r":153,"v":-1,"p":300,"x":1231,"x2":1252},{"r":153,"v":-1,"p":350,"x":1231,"x2":1248},{"r":153,"v":-1,"p":400,"x":1230,"x2":1240},{"r":153,"v":-1,"p":500,"x":1225,"x2":1240},
{"r":154,"v":0,"p":100,"x":1228,"x2":1243},{"r":154,"v":0,"p":175,"x":1230,"x2":1243},{"r":154,"v":0,"p":225,"x":1235,"x2":1243},{"r":154,"v":0,"p":240,"x":1238,"x2":1240},
{"r":155,"v":-3,"p":100,"x":1250,"x2":1305},{"r":155,"v":-3,"p":250,"x":1252,"x2":1305},{"r":155,"v":-3,"p":400,"x":1250,"x2":1305},{"r":155,"v":-3,"p":500,"x":1250,"x2":1305},
{"r":156,"v":-4,"p":100,"x":1290,"x2":1305},{"r":156,"v":-4,"p":115,"x":1264,"x2":1305},{"r":156,"v":-4,"p":150,"x":1262,"x2":1305},{"r":156,"v":-4,"p":250,"x":1260,"x2":1305},{"r":156,"v":-4,"p":400,"x":1260,"x2":1305},{"r":156,"v":-4,"p":500,"x":1262,"x2":1305},
{"r":157,"v":-5,"p":200,"x":1270,"x2":1276},{"r":157,"v":-5,"p":225,"x":1268,"x2":1284},{"r":157,"v":-5,"p":250,"x":1266,"x2":1290},{"r":157,"v":-5,"p":290,"x":1265,"x2":1305},{"r":157,"v":-5,"p":400,"x":1265,"x2":1305},{"r":157,"v":-5,"p":500,"x":1268,"x2":1300},
{"r":157.5,"v":-5,"p":200,"x":1295,"x2":1305},{"r":157.5,"v":-5,"p":250,"x":1292,"x2":1305},{"r":157.5,"v":-5,"p":290,"x":1290,"x2":1305},
{"r":158,"v":-6,"p":240,"x":1275,"x2":1277},{"r":158,"v":-6,"p":250,"x":1270,"x2":1282},{"r":158,"v":-6,"p":300,"x":1270,"x2":1284},{"r":158,"v":-6,"p":350,"x":1272,"x2":1288},{"r":158,"v":-6,"p":450,"x":1272,"x2":1290},{"r":158,"v":-6,"p":500,"x":1276,"x2":1285}
]},
"encoding":{
"y":{"field":"p","type":"quantitative","scale":{"type":"log","domain":[100,500],"nice":false,"zero":false,"reverse":true},
"axis":{"values":[100,150,200,250,300,350,400,450,500],"format":"d","title":"Pressure [hPa]","titleFontSize":22,"titleFontWeight":"normal","titleColor":"#222","titleX":-98,"titleY":240,"titleFont":"Liberation Sans","labelFontSize":26,"labelColor":"#555","labelFont":"Liberation Sans","labelPadding":6,"tickColor":"#555","tickSize":8,"tickWidth":2,"domain":false,"grid":true,"gridColor":"#888","gridOpacity":0.3,"gridDash":[3,13],"zindex":1}},
"x":{"field":"x","type":"quantitative","stack":null,"scale":{"domain":[135,1305],"nice":false,"zero":false},"axis":null},
"x2":{"field":"x2"},
"color":{"field":"v","type":"ordinal","scale":{"domain":[-6,-5,-4,-3,-2,-1,0,1,2,3,4,5,6,7],"range":["#1581c0","#2490d2","#3fadeb","#5fbbfa","#82d0ff","#adeeff","#ffffff","#ffe270","#ffc03c","#ffa000","#ff6a00","#ff3500","#e01400","#a50000"]},"legend":null},
"detail":{"field":"r"}}},
{"mark":{"type":"rule","color":"#4a4a4a","strokeWidth":2},
"data":{"values":[{"x":135,"x2":1305,"p":100},{"x":135,"x2":1305,"p":500}]},
"encoding":{"x":{"field":"x","type":"quantitative"},"x2":{"field":"x2"},"y":{"field":"p","type":"quantitative"}}},
{"mark":{"type":"rule","color":"#4a4a4a","strokeWidth":2},
"data":{"values":[{"x":135,"p":100,"p2":500}]},
"encoding":{"x":{"field":"x","type":"quantitative"},"y":{"field":"p","type":"quantitative"},"y2":{"field":"p2"}}},
{"mark":{"type":"text","font":"Inter","baseline":"middle","align":"center"},
"data":{"values":[
{"t":"Easterlies","x":812,"p":155.5,"s":50,"c":"#000000"},
{"t":"Westerlies","x":1149,"p":155.5,"s":50,"c":"#000000"},
{"t":"(from the continent)","x":819,"p":184.5,"s":33,"c":"#ffffff"},
{"t":"(from the Pacific)","x":1149,"p":184.5,"s":33,"c":"#ffffff"},
{"t":"a. Zonal wind speed","x":356,"p":84.8,"s":38,"c":"#000000"},
{"t":"12 km","x":1393,"p":183.5,"s":37,"c":"#000000"},
{"t":"5 km","x":1381,"p":485,"s":37,"c":"#000000"}
]},
"encoding":{"x":{"field":"x","type":"quantitative"},"y":{"field":"p","type":"quantitative"},"text":{"field":"t"},"size":{"field":"s","type":"quantitative","scale":null},"color":{"field":"c","type":"nominal","scale":null}}},
{"mark":{"type":"rule","color":"#0e2a38","strokeWidth":3.5},
"data":{"values":[{"x":665,"p":84.5,"p2":526},{"x":981,"p":84.5,"p2":526},{"x":990,"p":84.5,"p2":526},{"x":1306,"p":84.5,"p2":526}]},
"encoding":{"x":{"field":"x","type":"quantitative"},"y":{"field":"p","type":"quantitative"},"y2":{"field":"p2"}}},
{"mark":{"type":"rule","color":"#0e2a38","strokeWidth":3.5},
"data":{"values":[{"x":663.5,"x2":982.5,"p":84.5},{"x":988.5,"x2":1307.5,"p":84.5}]},
"encoding":{"x":{"field":"x","type":"quantitative"},"x2":{"field":"x2"},"y":{"field":"p","type":"quantitative"}}}
]}
